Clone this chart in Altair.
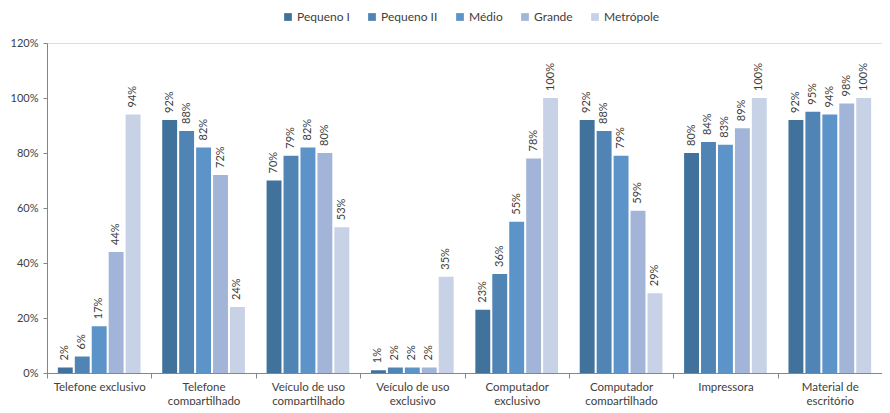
import altair as alt
import pandas as pd

categories = [
    "Telefone exclusivo",
    "Telefone\ncompartilhado",
    "Veículo de uso\ncompartilhado",
    "Veículo de uso\nexclusivo",
    "Computador\nexclusivo",
    "Computador\ncompartilhado",
    "Impressora",
    "Material de\nescritório",
]
series = ["Pequeno I", "Pequeno II", "Médio", "Grande", "Metrópole"]
colors = ["#41729C", "#5084B4", "#5C93C8", "#A2B5D8", "#C7D2E6"]

pequeno_i = [2, 92, 70, 1, 23, 92, 80, 92]
pequeno_ii = [6, 88, 79, 2, 36, 88, 84, 95]
medio = [17, 82, 82, 2, 55, 79, 83, 94]
grande = [44, 72, 80, 2, 78, 59, 89, 98]
metropole = [94, 24, 53, 35, 100, 29, 100, 100]

values = [pequeno_i, pequeno_ii, medio, grande, metropole]
rows = []
for s, vals in zip(series, values):
    for c, v in zip(categories, vals):
        rows.append({"cat": c, "serie": s, "valor": v / 100})
df = pd.DataFrame(rows)

FONT = "Lato"
TXT = "#404040"

x = alt.X(
    "cat:N",
    sort=categories,
    title=None,
    scale=alt.Scale(paddingInner=0, paddingOuter=0),
    axis=alt.Axis(
        labelAngle=0,
        labelExpr="split(datum.label, '\\n')",
        tickBand="extent",
        tickSize=5,
        labelPadding=3,
        labelFontSize=11.5,
        labelLineHeight=14,
        labelFont=FONT,
        labelColor=TXT,
        domainColor="#868686",
        tickColor="#868686",
        grid=False,
    ),
)
xo = alt.XOffset(
    "serie:N",
    sort=series,
    scale=alt.Scale(paddingInner=0.12, paddingOuter=0.64),
)
y = alt.Y(
    "valor:Q",
    title=None,
    scale=alt.Scale(domain=[0, 1.2], nice=False),
    axis=alt.Axis(
        format=".0%",
        values=[0, 0.2, 0.4, 0.6, 0.8, 1.0, 1.2],
        tickSize=4,
        labelPadding=5,
        labelFontSize=11,
        labelFont=FONT,
        labelColor=TXT,
        domainColor="#868686",
        tickColor="#868686",
        grid=False,
    ),
)
color = alt.Color(
    "serie:N",
    sort=series,
    scale=alt.Scale(domain=series, range=colors),
    legend=alt.Legend(
        title=None,
        orient="none",
        direction="horizontal",
        legendX=235,
        legendY=-32,
        symbolType="square",
        symbolSize=60,
        symbolStrokeWidth=0,
        labelFontSize=12,
        labelFont=FONT,
        labelColor=TXT,
        labelOffset=3,
        columnPadding=16,
        padding=0,
    ),
)

bars = alt.Chart(df).mark_bar().encode(x=x, xOffset=xo, y=y, color=color)
labels = alt.Chart(df).mark_text(
    angle=270, align="left", baseline="middle", dx=7,
    fontSize=11, font=FONT, color=TXT,
).encode(
    x=alt.X("cat:N", sort=categories),
    xOffset=alt.XOffset("serie:N", sort=series),
    y="valor:Q",
    text=alt.Text("valor:Q", format=".0%"),
)

chart = (
    alt.layer(bars, labels)
    .properties(
        width=835,
        height=330,
        autosize=alt.AutoSizeParams(type="none"),
        padding={"left": 39, "top": 35, "right": 0, "bottom": 32},
    )
    .configure_view(stroke=None)
    .configure(background="white")
)

chart.save("out.html", embed_options={"renderer": "svg", "actions": False})
